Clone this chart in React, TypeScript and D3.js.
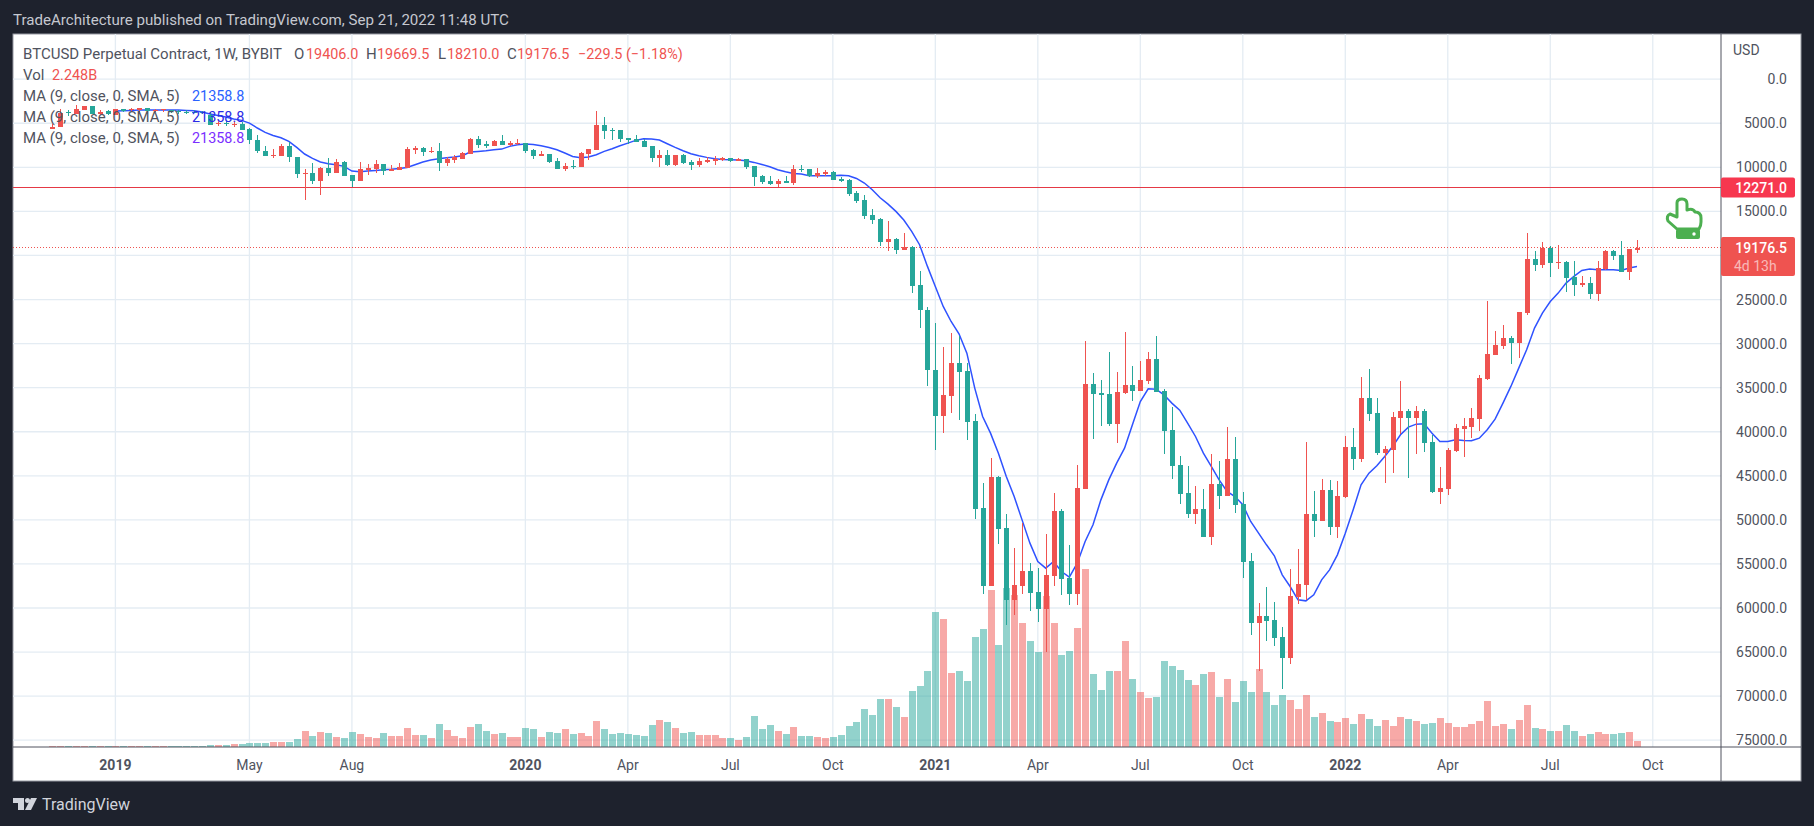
import * as d3 from "d3";

// weekly bars, first one sits 8 weeks before the "2019" tick
const firstBar = -8;

const opens = [
  5690, 5470, 3770, 3990, 3460, 3010, 3920, 3610, 4030, 3390,
  3540, 3540, 3270, 3580, 3540, 3460, 3610, 3690, 3690, 3770,
  4030, 5090, 4980, 5160, 5050, 5620, 6870, 8120, 8650, 8680,
  7550, 8800, 10760, 10610, 11520, 10040, 10610, 9360, 10840, 11520,
  10270, 10160, 9590, 10390, 10270, 10040, 8000, 7780, 8230, 8120,
  9480, 9140, 9020, 8460, 6750, 7320, 7550, 6980, 7430, 7320,
  7210, 8000, 8680, 8460, 9250, 10160, 9820, 9930, 8460, 8000,
  5160, 5730, 5730, 6640, 6750, 6980, 7550, 8910, 8570, 9700,
  8570, 9360, 9700, 9360, 9250, 9140, 8910, 9250, 9020, 9820,
  10950, 11520, 11860, 11520, 11750, 10160, 10160, 10950, 10730, 10500,
  11290, 11410, 12880, 13680, 15380, 15830, 18440, 18100, 19350, 19010,
  23320, 26160, 32970, 38190, 35920, 32180, 33090, 38760, 48630, 57490,
  45120, 50900, 59070, 57490, 55780, 58170, 60100, 56350, 48970, 56580,
  58390, 46480, 34560, 35580, 35700, 39100, 35580, 34670, 35360, 34220,
  31720, 35360, 39780, 43750, 46930, 49310, 48750, 51920, 45910, 47270,
  43070, 48180, 54650, 61680, 60890, 61340, 63270, 65660, 58730, 57370,
  49310, 50110, 46590, 50790, 47380, 41710, 43070, 36150, 37850, 42390,
  42050, 38420, 37620, 38420, 37620, 41140, 46820, 46480, 42160, 39670,
  39440, 38530, 33990, 31270, 30250, 29340, 29910, 26500, 20370, 21050,
  19120, 20830, 20710, 22420, 23320, 23100, 24350, 21510, 19470, 19920,
  21850, 19406,
];

const closes = [
  5390, 3840, 3880, 3390, 3010, 3920, 3690, 3950, 3350, 3580,
  3390, 3270, 3580, 3460, 3420, 3610, 3730, 3770, 3770, 3840,
  5160, 4980, 5130, 5050, 5730, 6940, 8190, 8680, 8570, 7550,
  8830, 10800, 10650, 11520, 10040, 10610, 9360, 10950, 11520, 10160,
  10040, 9590, 10390, 10160, 9930, 7890, 7780, 8230, 8120, 9480,
  9020, 8800, 8340, 6750, 7430, 7550, 6980, 7430, 7210, 7210,
  8120, 8680, 8460, 9360, 10160, 9820, 9930, 8340, 7890, 5160,
  5850, 5850, 6750, 6870, 7090, 7660, 8910, 8570, 9700, 8570,
  9480, 9700, 9250, 9140, 9020, 8910, 9250, 9020, 9930, 11070,
  11630, 11860, 11520, 11750, 10160, 10270, 10950, 10610, 10500, 11410,
  11520, 13000, 13790, 15490, 15950, 18440, 18100, 19350, 19010, 23440,
  26240, 33050, 38190, 35810, 32180, 33200, 38870, 48750, 57490, 45120,
  51020, 59070, 57370, 55780, 58280, 60100, 56240, 48970, 56690, 58390,
  46360, 34560, 35700, 35810, 39100, 35470, 34670, 35360, 34110, 31720,
  35470, 39890, 43870, 47040, 49310, 48750, 51920, 45910, 47270, 43070,
  48290, 54760, 61680, 60890, 61460, 63390, 65660, 58620, 57260, 49310,
  50110, 46590, 50790, 47270, 41710, 43070, 36150, 37970, 42390, 41940,
  38310, 37620, 38420, 37620, 41260, 46820, 46360, 42050, 39550, 39330,
  38420, 33880, 31150, 30130, 29340, 29910, 26390, 20370, 21050, 19120,
  20830, 20710, 22530, 23320, 23100, 24350, 21390, 19470, 20030, 21850,
  19240, 19176.5,
];

const highs = [
  5690, 5470, 4220, 3990, 3460, 3920, 4070, 4070, 4030, 3690,
  3690, 3690, 3690, 3770, 3690, 3840, 3920, 3920, 3840, 3990,
  5160, 5280, 5280, 5430, 5730, 7400, 8380, 8680, 8990, 8680,
  9360, 11180, 13750, 11940, 13110, 11030, 10610, 10950, 12240, 11520,
  10840, 10610, 10840, 10390, 10270, 10040, 8460, 8680, 8340, 10390,
  9820, 9480, 9020, 8460, 7780, 7780, 7550, 7430, 7550, 7430,
  8340, 9020, 8680, 9480, 10160, 10390, 10160, 9930, 9140, 8000,
  6750, 6870, 7090, 7320, 7090, 7660, 9360, 9930, 9820, 9820,
  9590, 10270, 9930, 9480, 9700, 9250, 9360, 9250, 10160, 12090,
  11860, 11970, 12200, 11750, 11970, 10500, 11070, 11180, 10950, 11410,
  11630, 13220, 14020, 15830, 16400, 18900, 19460, 19800, 19350, 24230,
  28240, 34790, 42050, 40120, 37850, 38650, 40920, 49880, 58390, 57490,
  52720, 61910, 60780, 58390, 60320, 61570, 64980, 57490, 58510, 59640,
  59640, 46480, 40800, 39330, 39330, 41260, 35700, 36490, 35360, 34560,
  35470, 42500, 45340, 48180, 49770, 50450, 51920, 52830, 48750, 47270,
  49200, 56580, 63050, 67130, 63730, 64300, 69180, 66340, 59530, 59070,
  51920, 50110, 51700, 52040, 47500, 44320, 43410, 38760, 42620, 45800,
  44660, 40240, 45230, 42500, 42280, 46930, 48180, 47160, 42280, 42850,
  40690, 39890, 34110, 31270, 30590, 32290, 31610, 26730, 21730, 21390,
  22420, 21510, 24120, 24570, 23550, 24910, 25140, 21620, 20490, 21850,
  22760, 19669.5,
];

const lows = [
  5050, 3390, 3460, 2930, 3010, 3010, 3460, 3460, 3350, 3390,
  3270, 3270, 3270, 3350, 3390, 3460, 3460, 3460, 3460, 3580,
  3770, 4750, 4750, 4820, 4900, 5510, 6300, 7620, 7930, 7320,
  7170, 8800, 10200, 9520, 9970, 8910, 9020, 9250, 10840, 9360,
  9590, 9140, 9590, 9700, 9480, 7660, 7550, 7660, 7660, 7210,
  8800, 8570, 8230, 6640, 6410, 6980, 6870, 6300, 6980, 6750,
  7210, 7890, 8120, 8460, 8910, 9480, 9140, 8230, 7890, 3580,
  4260, 5510, 5730, 6640, 6300, 6750, 7550, 8000, 8000, 8570,
  8460, 9140, 8910, 8800, 8680, 8800, 8910, 8910, 9020, 9820,
  10840, 10950, 11290, 10950, 9700, 9700, 10160, 10040, 10270, 10390,
  11070, 11290, 12660, 13110, 14700, 15720, 16060, 17990, 17420, 18900,
  21730, 25820, 27640, 30360, 28770, 29110, 32180, 37970, 45800, 42960,
  45000, 49310, 53170, 50340, 54880, 55440, 51580, 46930, 48750, 52830,
  43750, 29680, 33310, 34110, 30930, 33200, 28660, 32520, 31950, 30930,
  29110, 35130, 37170, 42730, 43870, 46140, 46480, 42500, 43300, 39440,
  40580, 46820, 53740, 59420, 57600, 59300, 62140, 55560, 53290, 41140,
  46700, 45340, 45460, 45570, 40460, 39550, 33770, 32860, 36150, 41600,
  37740, 34220, 37400, 37060, 37400, 40350, 43980, 41820, 39100, 38420,
  37280, 33540, 25140, 28540, 27860, 29110, 26390, 17420, 19470, 18440,
  18900, 18780, 20600, 20600, 22300, 22420, 20600, 19350, 19350, 18330,
  19240, 18210,
];

// billions
const volumes = [
  0.36, 0.36, 0.36, 0.36, 0.36, 0.36, 0.36, 0.36, 0.36, 0.36,
  0.36, 0.36, 0.36, 0.36, 0.36, 0.36, 0.36, 0.36, 0.36, 0.36,
  0.72, 0.72, 0.72, 1.07, 1.07, 1.43, 1.43, 1.43, 1.79, 1.79,
  1.79, 2.86, 5.73, 3.94, 5.37, 5.01, 3.58, 3.22, 5.37, 4.65,
  3.58, 3.22, 5.01, 3.94, 3.94, 6.8, 4.3, 4.3, 3.22, 8.23,
  6.09, 3.94, 3.22, 7.16, 8.23, 5.73, 4.65, 5.01, 3.58, 3.58,
  6.8, 6.44, 3.58, 5.37, 5.01, 6.44, 4.65, 5.01, 3.94, 9.31,
  6.44, 4.65, 5.01, 4.65, 4.3, 3.94, 7.88, 9.67, 8.95, 6.8,
  5.01, 5.37, 4.3, 4.3, 4.3, 3.22, 3.22, 2.51, 3.58, 11.1,
  6.44, 7.88, 5.73, 4.65, 7.16, 3.94, 3.94, 3.58, 3.22, 3.58,
  4.3, 7.52, 8.95, 13.6, 11.5, 17.2, 17.2, 14.3, 10.7, 20.0,
  21.8, 27.2, 48.3, 45.8, 26.5, 27.2, 23.6, 39.4, 42.2, 56.2,
  36.5, 56.9, 54.4, 44.4, 37.9, 34.0, 54.1, 44.4, 32.9, 34.4,
  42.6, 63.7, 26.1, 20.4, 27.2, 27.2, 37.9, 24.3, 19.7, 17.5,
  17.9, 30.8, 29.0, 27.6, 24.0, 22.2, 26.1, 26.9, 17.9, 24.3,
  16.1, 23.6, 19.7, 27.9, 19.7, 15.0, 18.6, 16.8, 13.6, 18.6,
  10.7, 12.2, 9.31, 8.95, 10.4, 8.23, 11.8, 10.0, 7.52, 9.67,
  7.52, 10.7, 10.0, 9.31, 8.23, 8.59, 10.4, 8.59, 7.16, 7.16,
  8.23, 9.31, 16.5, 7.52, 8.23, 6.44, 9.67, 15.0, 6.8, 6.44,
  5.73, 5.73, 7.88, 5.73, 3.94, 4.65, 5.37, 4.65, 4.65, 5.01,
  5.37, 2.248,
];

// MA starts on the bar of the "2019" tick
const maValues = [
  3610, 3580, 3540, 3500, 3500, 3500, 3500, 3500, 3500, 3540,
  3580, 3730, 3950, 4110, 4290, 4520, 4670, 4980, 5540, 6030,
  6380, 6640, 7060, 7740, 8490, 8990, 9400, 9590, 9700, 9890,
  10420, 10500, 10420, 10350, 10270, 10230, 10120, 10010, 9700, 9400,
  9170, 9020, 8910, 8830, 8680, 8270, 8190, 8120, 8000, 7930,
  7620, 7430, 7360, 7400, 7550, 7740, 8000, 8380, 8760, 8910,
  8830, 8570, 8190, 7890, 7550, 7250, 6940, 6750, 6790, 6900,
  7320, 7740, 8120, 8460, 8680, 8870, 9020, 9100, 9140, 9170,
  9250, 9440, 9670, 9930, 10270, 10500, 10690, 10760, 10950, 10950,
  10950, 10950, 10910, 10950, 11260, 11780, 12540, 13450, 14170, 15000,
  15980, 17270, 18780, 21240, 23510, 25780, 27490, 28890, 31080, 35050,
  38270, 40160, 42430, 45080, 47350, 50000, 52640, 54720, 55480, 54720,
  55860, 56500, 54910, 52450, 50560, 47730, 45460, 43560, 41860, 39210,
  36570, 35130, 35170, 35810, 36750, 37550, 39020, 40540, 42430, 43940,
  45460, 46780, 47350, 48290, 50180, 51510, 52830, 54080, 56240, 57560,
  59070, 59190, 58510, 56810, 55670, 53970, 51510, 48860, 46020, 44700,
  43870, 42810, 41670, 40350, 39480, 39140, 39100, 40160, 41110, 41110,
  40920, 40990, 41030, 40730, 39780, 38570, 36750, 34860, 32780, 30700,
  28240, 26540, 25220, 24270, 23130, 22380, 21700, 21550, 21620, 21620,
  21620, 21700, 21430, 21240,
];

const priceTicks = [0, 5000, 10000, 15000, 20000, 25000, 30000, 35000, 40000, 45000, 50000, 55000, 60000, 65000, 70000, 75000];
// 20000 sits under the last price tag, so it shows no label
const priceLabels = priceTicks.filter((p) => p !== 20000);
const lastPrice = 19176.5;
const levelPrice = 12271;

const timeTickBars = [0, 17, 30, 52, 65, 78, 91, 104, 117, 130, 143, 156, 169, 182, 195];
const timeTickLabels = ["2019", "May", "Aug", "2020", "Apr", "Jul", "Oct", "2021", "Apr", "Jul", "Oct", "2022", "Apr", "Jul", "Oct"];

const W = 1814;
const H = 826;
const frame = { left: 13, right: 1801, top: 34, bottom: 781 };
const axisX = 1721;
const axisY = 747;

const BG = "#1e222d";
const GRID = "#e4ecf3";
const UP = "#26a69a";
const DOWN = "#ef5350";
const TEXT = "#50535e";
const FONT = "Roboto, sans-serif";

const x = d3.scaleLinear().domain([0, 193]).range([115.4, 1637]);
// price axis is inverted
const y = d3.scaleLinear().domain([0, 75000]).range([79.2, 740.2]);
const vol = d3.scaleLinear().domain([0, 63.7]).range([axisY, 569]);

const maLine = d3
  .line<number>()
  .x((_, i) => x(i))
  .y((d) => y(d));

function Legend() {
  const label = { fontFamily: FONT, fontSize: 15, fill: TEXT };
  const red = { fontFamily: FONT, fontSize: 14.4, fill: DOWN };
  const maColors = ["#2962ff", "#2a2ae6", "#7b2fff"];
  return (
    <g>
      <text x={23} y={59} {...label}>BTCUSD Perpetual Contract, 1W, BYBIT</text>
      <text x={294} y={59} {...label}>O</text>
      <text x={306} y={59} {...red}>19406.0</text>
      <text x={366} y={59} {...label}>H</text>
      <text x={377} y={59} {...red}>19669.5</text>
      <text x={438} y={59} {...label}>L</text>
      <text x={447} y={59} {...red}>18210.0</text>
      <text x={507} y={59} {...label}>C</text>
      <text x={517} y={59} {...red}>19176.5</text>
      <text x={578} y={59} {...red}>−229.5 (−1.18%)</text>
      <text x={23} y={80} {...label}>Vol</text>
      <text x={52} y={80} {...red}>2.248B</text>
      {maColors.map((c, i) => (
        <g key={c}>
          <text x={23} y={101 + i * 21} {...label}>MA (9, close, 0, SMA, 5)</text>
          <text x={192} y={101 + i * 21} fontFamily={FONT} fontSize={14.4} fill={c}>21358.8</text>
        </g>
      ))}
    </g>
  );
}

function HandIcon() {
  return (
    <g transform="translate(1666,198)">
      <path
        d="M11 31 L2 23 Q0 18 4 16 L11 19 L11 5 Q11 1 16 1 Q21 1 21 6 L21 12 Q27 10 29 14 Q35 14 35 20 L35 24 Q35 28 33 31 Z"
        fill="#fff"
        stroke="#4caf50"
        strokeWidth={3}
        strokeLinejoin="round"
      />
      <rect x={10} y={31} width={24} height={10} rx={2} fill="#4caf50" />
      <circle cx={28} cy={36} r={1.7} fill="#fff" />
    </g>
  );
}

export default function App() {
  const bars = opens.map((o, i) => ({
    bar: i + firstBar,
    o,
    c: closes[i],
    h: highs[i],
    l: lows[i],
    v: volumes[i],
    up: closes[i] >= o,
  }));

  return (
    <div style={{ position: "absolute", left: 0, top: 0, width: W, height: H, overflow: "hidden" }}>
      <svg width={W} height={H} style={{ display: "block" }}>
        <rect width={W} height={H} fill={BG} />
        <text x={13} y={25} fontFamily={FONT} fontSize={15.1} fill="#c5c8d0">
          TradeArchitecture published on TradingView.com, Sep 21, 2022 11:48 UTC
        </text>
        <rect x={frame.left} y={frame.top} width={frame.right - frame.left} height={frame.bottom - frame.top} fill="#fff" stroke="#9598a1" strokeWidth={1} />

        {/* grid */}
        {priceTicks.map((p) => (
          <line key={p} x1={frame.left} x2={axisX} y1={y(p)} y2={y(p)} stroke={GRID} strokeWidth={1.3} />
        ))}
        {timeTickBars.map((b) => (
          <line key={b} x1={x(b)} x2={x(b)} y1={frame.top} y2={axisY} stroke={GRID} strokeWidth={1.3} />
        ))}

        {/* volume */}
        <g shapeRendering="crispEdges">
          {bars.map((d) => (
            <rect
              key={d.bar}
              x={Math.round(x(d.bar)) - 3.5}
              width={7}
              y={vol(d.v)}
              height={axisY - vol(d.v)}
              fill={d.up ? UP : DOWN}
              fillOpacity={0.5}
            />
          ))}
        </g>

        <line x1={frame.left} x2={axisX} y1={Math.floor(y(levelPrice)) + 0.5} y2={Math.floor(y(levelPrice)) + 0.5} stroke="#e53945" strokeWidth={1} />
        <line x1={frame.left} x2={axisX} y1={Math.floor(y(lastPrice)) - 0.5} y2={Math.floor(y(lastPrice)) - 0.5} stroke={DOWN} strokeWidth={1} strokeDasharray="1 2" />

        <path d={maLine(maValues) ?? ""} fill="none" stroke="#2f52ff" strokeWidth={1.5} />

        {/* candles */}
        <g shapeRendering="crispEdges">
          {bars.map((d) => {
            const cx = Math.round(x(d.bar));
            const color = d.up ? UP : DOWN;
            const top = y(Math.min(d.o, d.c));
            const bottom = y(Math.max(d.o, d.c));
            return (
              <g key={d.bar} fill={color}>
                <rect x={cx - 0.5} width={1} y={y(d.l)} height={y(d.h) - y(d.l)} />
                <rect x={cx - 2.5} width={5} y={top} height={Math.max(bottom - top, 1)} />
              </g>
            );
          })}
        </g>

        <HandIcon />
        <Legend />

        {/* price axis */}
        <line x1={axisX} x2={axisX} y1={frame.top} y2={frame.bottom} stroke={TEXT} strokeWidth={1} />
        <line x1={frame.left} x2={frame.right} y1={axisY} y2={axisY} stroke={TEXT} strokeWidth={1} />
        <text x={1733} y={55} fontFamily={FONT} fontSize={14} fill={TEXT}>USD</text>
        {priceLabels.map((p) => (
          <text key={p} x={1787} y={y(p) + 5} textAnchor="end" fontFamily={FONT} fontSize={14} fill={TEXT}>
            {d3.format(".1f")(p)}
          </text>
        ))}
        <rect x={axisX} y={177.5} width={74} height={20} rx={2} fill="#f7374f" />
        <text x={1787} y={192.5} textAnchor="end" fontFamily={FONT} fontSize={14} fontWeight={500} fill="#fff">12271.0</text>
        <rect x={axisX} y={237} width={74} height={39} rx={2} fill={DOWN} />
        <text x={1787} y={252.5} textAnchor="end" fontFamily={FONT} fontSize={14} fontWeight={500} fill="#fff">19176.5</text>
        <text x={1734} y={271} fontFamily={FONT} fontSize={14} fill="#fff" fillOpacity={0.6}>4d 13h</text>

        {/* time axis */}
        {timeTickBars.map((b, i) => {
          const isYear = /^\d+$/.test(timeTickLabels[i]);
          return (
            <text
              key={b}
              x={x(b)}
              y={770}
              textAnchor="middle"
              fontFamily={FONT}
              fontSize={14}
              fontWeight={isYear ? 700 : 400}
              fill={TEXT}
            >
              {timeTickLabels[i]}
            </text>
          );
        })}

        {/* footer logo */}
        <g fill="#d1d4dc">
          <polygon points="13,798 24,798 24,810 18,810 18,803 13,803" />
          <circle cx={27.5} cy={800.5} r={2.5} />
          <polygon points="31,798 37,798 31,810 25,810" />
        </g>
        <text x={42} y={810} fontFamily={FONT} fontSize={16} fill="#d1d4dc">TradingView</text>
      </svg>
    </div>
  );
}
